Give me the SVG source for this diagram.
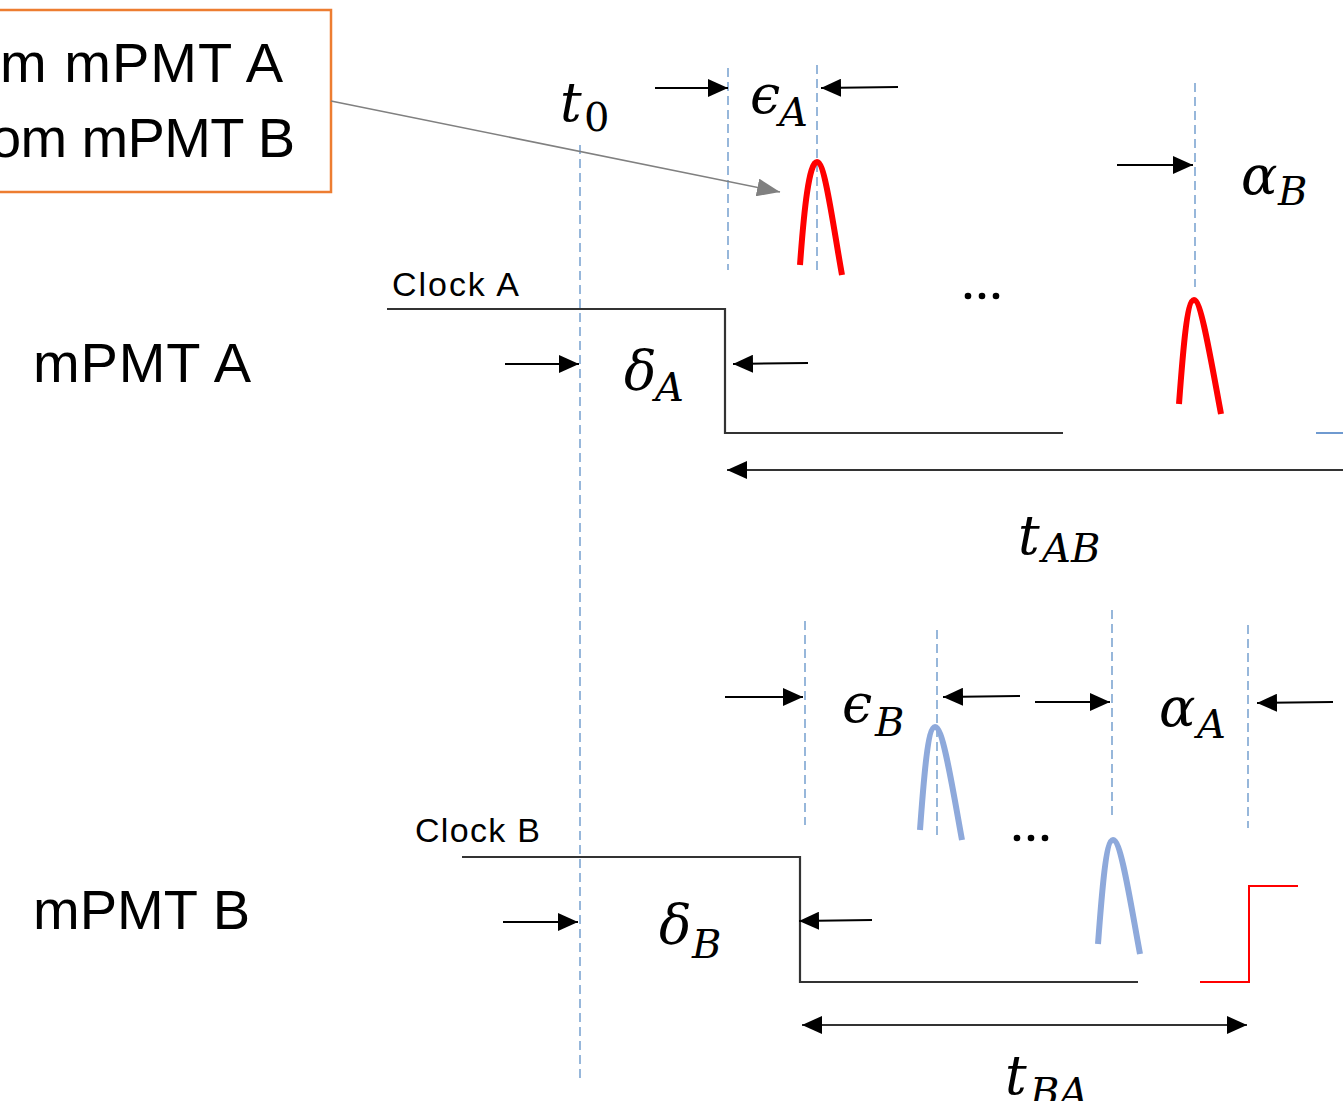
<svg xmlns="http://www.w3.org/2000/svg" width="1343" height="1101" viewBox="0 0 1343 1101">
<style>
.lbl{font-family:"Liberation Sans","Open Sans",sans-serif;fill:#000}
.math{font-family:"DejaVu Serif","Liberation Serif",serif;font-style:italic;font-size:54px;fill:#000}
.sub{font-size:40px}
.up{font-style:normal}
.dash{stroke:#7EA6D2;stroke-width:1.6;stroke-dasharray:9 5;fill:none}
.blk{stroke:#000;stroke-width:2;fill:none}
.sig{stroke:#333;stroke-width:2.2;fill:none}
.red{stroke:#FF0000;stroke-width:6;fill:none;stroke-linecap:butt}
.blue{stroke:#8EA9DB;stroke-width:6;fill:none;stroke-linecap:butt}
</style>
<defs>
<marker id="ah" markerUnits="userSpaceOnUse" markerWidth="21" markerHeight="18" refX="20" refY="9" orient="auto">
<path d="M0,0 L20,9 L0,18 z" fill="#000"/>
</marker>
<marker id="ahs" markerUnits="userSpaceOnUse" markerWidth="21" markerHeight="18" refX="1" refY="9" orient="auto">
<path d="M21,0 L1,9 L21,18 z" fill="#000"/>
</marker>
<marker id="ahg" markerUnits="userSpaceOnUse" markerWidth="24" markerHeight="18" refX="23" refY="9" orient="auto">
<path d="M0,0 L23,9 L0,18 z" fill="#808080"/>
</marker>
</defs>
<rect width="1343" height="1101" fill="#fff"/>

<g id="legend">
<rect x="-10" y="10" width="341" height="182" fill="#fff" stroke="#ED7D31" stroke-width="2.5"/>
<text class="lbl" x="0" y="82" font-size="56" textLength="283">m mPMT A</text>
<text class="lbl" x="-10" y="157" font-size="56" textLength="305">om mPMT B</text>
</g>

<g id="guides">
<line class="dash" x1="580" y1="145" x2="580" y2="1083"/>
<line class="dash" x1="728" y1="68" x2="728" y2="270"/>
<line class="dash" x1="817" y1="65" x2="817" y2="272"/>
<line class="dash" x1="1195" y1="83" x2="1195" y2="287"/>
<line class="dash" x1="805" y1="621" x2="805" y2="825"/>
<line class="dash" x1="937" y1="630" x2="937" y2="838"/>
<line class="dash" x1="1112" y1="610" x2="1112" y2="820"/>
<line class="dash" x1="1248" y1="625" x2="1248" y2="828"/>
</g>

<g id="mpmt-a">
<text class="lbl" x="33" y="382" font-size="56" textLength="218">mPMT A</text>
<text class="lbl" x="392" y="296" font-size="34" textLength="127">Clock A</text>
<polyline class="sig" points="387,309 725,309 725,433 1063,433"/>
<line x1="1316" y1="433" x2="1343" y2="433" stroke="#6F9AD0" stroke-width="2"/>
<path class="red" d="M800,265 C804,210 809,162 817,162 C825,162 833,225 842,275"/>
<path class="red" d="M1179,404 C1183,350 1187,300 1194,300 C1201,300 1210,355 1221,414"/>
<g fill="#000"><circle cx="968" cy="296" r="3.3"/><circle cx="982" cy="296" r="3.3"/><circle cx="996" cy="296" r="3.3"/></g>
</g>

<g id="mpmt-b">
<text class="lbl" x="33" y="929" font-size="56" textLength="217">mPMT B</text>
<text class="lbl" x="415" y="842" font-size="34" textLength="125">Clock B</text>
<polyline class="sig" points="462,857 800,857 800,982 1138,982"/>
<polyline points="1200,982 1249,982 1249,886 1298,886" stroke="#FF0000" stroke-width="2" fill="none"/>
<path class="blue" d="M920,830 C924,775 928,727 935,727 C943,727 952,785 962,840"/>
<path class="blue" d="M1098,944 C1102,890 1106,840 1113,840 C1121,840 1130,900 1140,954"/>
<g fill="#000"><circle cx="1017" cy="838" r="3.3"/><circle cx="1031" cy="838" r="3.3"/><circle cx="1045" cy="838" r="3.3"/></g>
</g>

<g id="connectors">
<line x1="331" y1="101" x2="780" y2="192" stroke="#808080" stroke-width="1.6" marker-end="url(#ahg)"/>
<line class="blk" x1="655" y1="88" x2="728" y2="88" marker-end="url(#ah)"/>
<line class="blk" x1="898" y1="87" x2="821" y2="88" marker-end="url(#ah)"/>
<line class="blk" x1="1117" y1="165" x2="1193" y2="165" marker-end="url(#ah)"/>
<line class="blk" x1="505" y1="364" x2="579" y2="364" marker-end="url(#ah)"/>
<line class="blk" x1="808" y1="363" x2="733" y2="364" marker-end="url(#ah)"/>
<line class="sig" x1="1343" y1="470" x2="727" y2="470" marker-end="url(#ah)"/>
<line class="blk" x1="725" y1="697" x2="803" y2="697" marker-end="url(#ah)"/>
<line class="blk" x1="1020" y1="696" x2="943" y2="697" marker-end="url(#ah)"/>
<line class="blk" x1="1035" y1="702" x2="1110" y2="702" marker-end="url(#ah)"/>
<line class="blk" x1="1333" y1="702" x2="1257" y2="703" marker-end="url(#ah)"/>
<line class="blk" x1="503" y1="922" x2="578" y2="922" marker-end="url(#ah)"/>
<line class="blk" x1="872" y1="920" x2="799" y2="921" marker-end="url(#ah)"/>
<line class="sig" x1="802" y1="1025" x2="1247" y2="1025" marker-start="url(#ahs)" marker-end="url(#ah)"/>
</g>

<g id="labels">
<text class="math" x="560" y="121">t<tspan class="sub up" x="584" y="131">0</tspan></text>
<text class="math" x="750" y="113">ϵ<tspan class="sub" x="779" y="126">A</tspan></text>
<text class="math" x="1241" y="194">α<tspan class="sub" x="1278" y="205">B</tspan></text>
<text class="math" x="624" y="389">δ<tspan class="sub" x="655" y="401">A</tspan></text>
<text class="math" x="1018" y="554">t<tspan class="sub" x="1042" y="562">AB</tspan></text>
<text class="math" x="842" y="722">ϵ<tspan class="sub" x="875" y="736">B</tspan></text>
<text class="math" x="1159" y="726">α<tspan class="sub" x="1197" y="738">A</tspan></text>
<text class="math" x="659" y="943">δ<tspan class="sub" x="692" y="958">B</tspan></text>
<text class="math" x="1005" y="1094">t<tspan class="sub" x="1030" y="1106">BA</tspan></text>
</g>
</svg>
